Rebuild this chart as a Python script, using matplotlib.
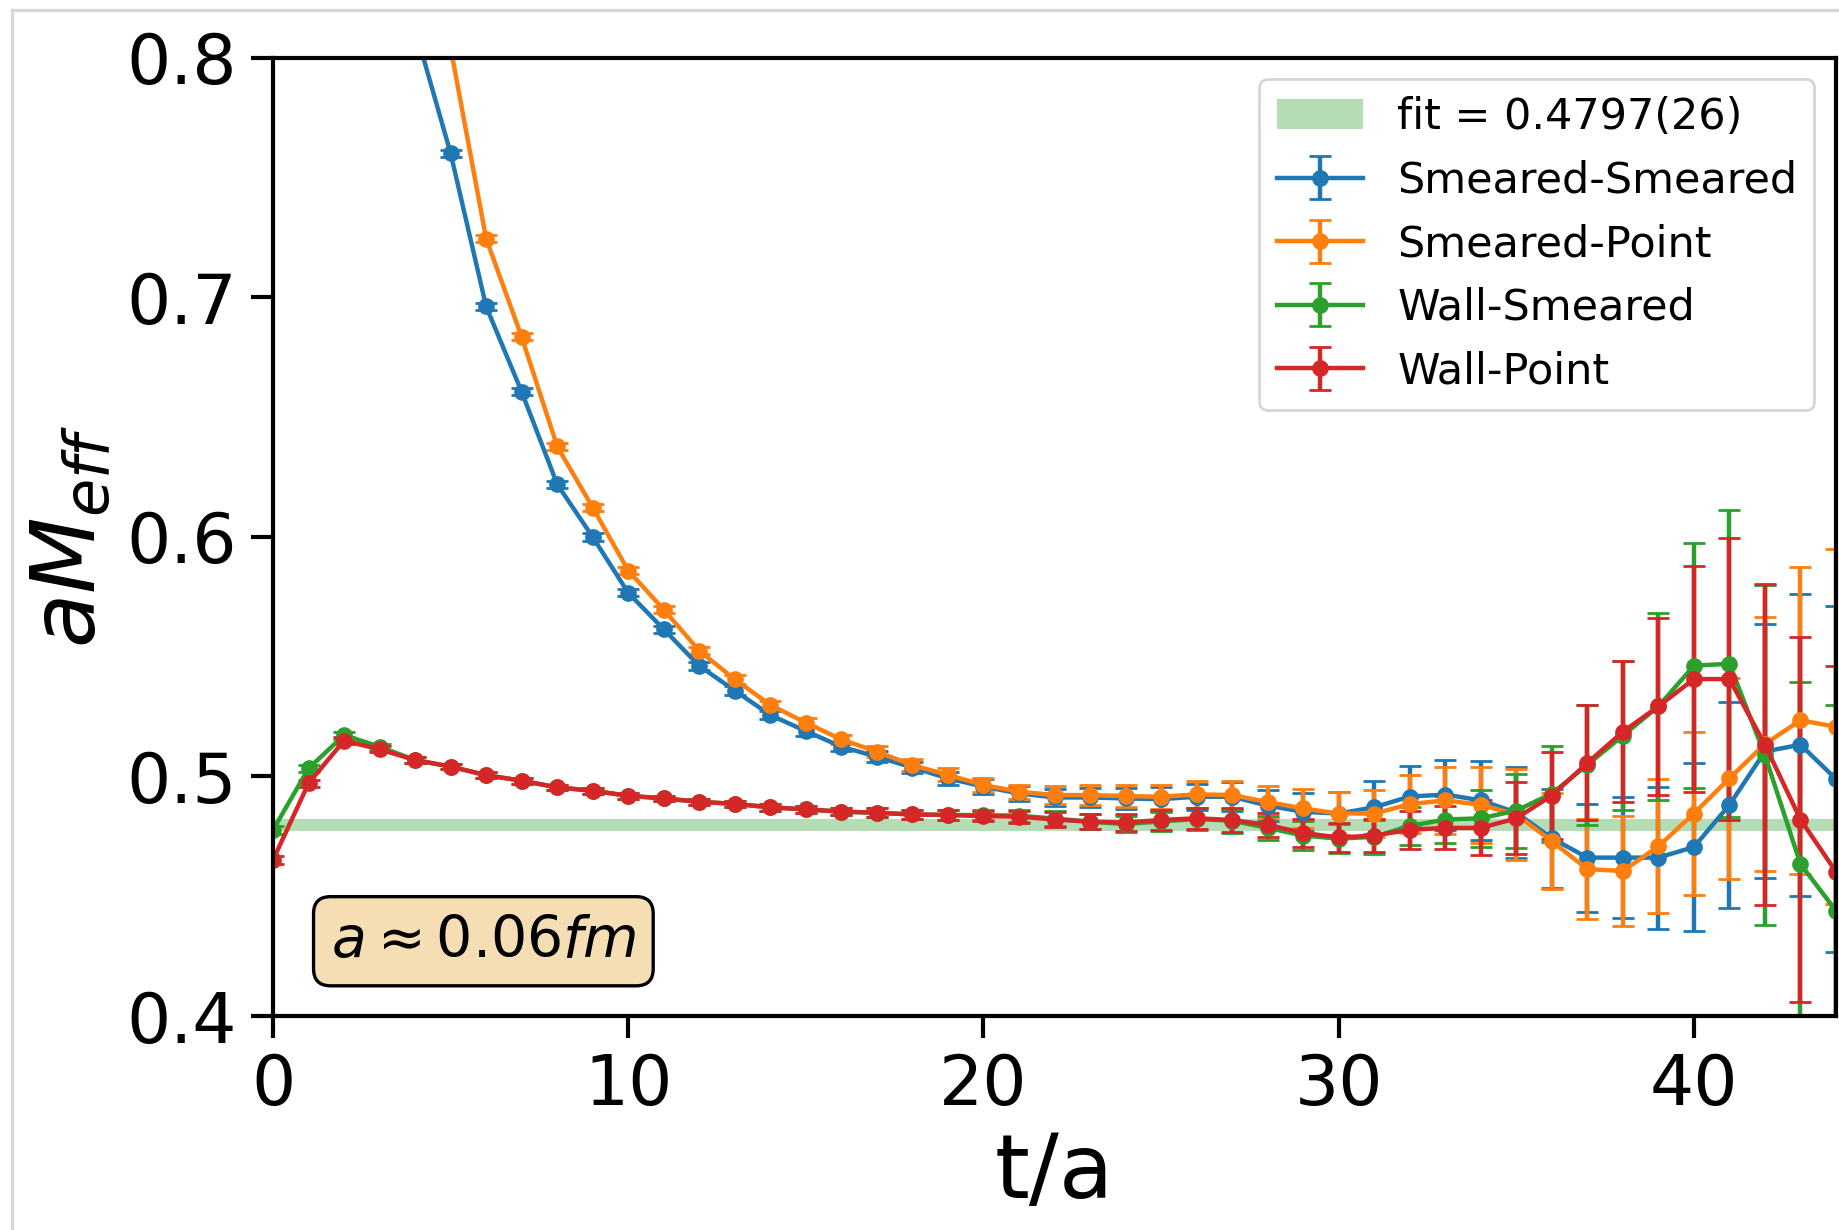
import numpy as np
import matplotlib.pyplot as plt
from matplotlib.lines import Line2D

# effective mass plateau, four source/sink combinations
t_ss = np.arange(4, 45)
m_ss = [0.812, 0.760, 0.6961, 0.6605, 0.6219, 0.5999, 0.5766, 0.5614, 0.5461, 0.5358,
        0.5256, 0.5189, 0.5124, 0.5082, 0.5037, 0.4992, 0.4957, 0.4929, 0.4912, 0.4912,
        0.4908, 0.4905, 0.4915, 0.4915, 0.4878, 0.4852, 0.4845, 0.4871, 0.4916, 0.4924,
        0.4900, 0.4849, 0.4742, 0.4661, 0.4661, 0.4661, 0.4705, 0.4881, 0.5104, 0.5132,
        0.4989]
e_ss = [0.0015, 0.0015, 0.0015, 0.0015, 0.0015, 0.0015, 0.0015, 0.0015, 0.0015, 0.0018,
        0.0018, 0.002, 0.002, 0.0022, 0.0025, 0.0027, 0.003, 0.003, 0.0036, 0.004,
        0.0045, 0.005, 0.0055, 0.006, 0.0065, 0.008, 0.009, 0.011, 0.0127, 0.0146,
        0.0164, 0.019, 0.0207, 0.0225, 0.0252, 0.0296, 0.035, 0.043, 0.053, 0.063,
        0.072]

t_sp = np.arange(5, 45)
m_sp = [0.804, 0.7244, 0.6834, 0.6377, 0.6122, 0.5859, 0.5696, 0.5524, 0.5405, 0.5298,
        0.5224, 0.5154, 0.5103, 0.5047, 0.5006, 0.4964, 0.4936, 0.4922, 0.4922, 0.4918,
        0.4915, 0.4925, 0.4922, 0.4893, 0.4866, 0.4845, 0.4845, 0.4884, 0.4900, 0.4881,
        0.4841, 0.4729, 0.4613, 0.4605, 0.4708, 0.4845, 0.4992, 0.5135, 0.5234, 0.5207]
e_sp = [0.0015, 0.0015, 0.0015, 0.0015, 0.0015, 0.0015, 0.0015, 0.0015, 0.0018, 0.0018,
        0.002, 0.002, 0.0022, 0.0025, 0.0027, 0.003, 0.003, 0.0036, 0.004, 0.0045,
        0.005, 0.0055, 0.006, 0.0065, 0.008, 0.009, 0.010, 0.012, 0.014, 0.016,
        0.019, 0.020, 0.021, 0.023, 0.028, 0.034, 0.042, 0.053, 0.064, 0.074]

t_w = np.arange(0, 45)
m_ws = [0.4776, 0.5033, 0.5172, 0.5124, 0.5068, 0.5041, 0.5005, 0.4982, 0.4954, 0.4940,
        0.4919, 0.4908, 0.4894, 0.4885, 0.4871, 0.4862, 0.4853, 0.4848, 0.4841, 0.4839,
        0.4838, 0.4836, 0.4824, 0.4811, 0.4801, 0.4812, 0.4822, 0.4815, 0.4785, 0.4753,
        0.4740, 0.4748, 0.4793, 0.4820, 0.4825, 0.4857, 0.4928, 0.5048, 0.5170, 0.5292,
        0.5462, 0.5470, 0.5088, 0.4634, 0.4439]
e_ws = [0.0015, 0.0015, 0.0015, 0.0012, 0.0012, 0.0012, 0.0012, 0.0012, 0.0012, 0.0012,
        0.0012, 0.0012, 0.0012, 0.0012, 0.0015, 0.0015, 0.0015, 0.0018, 0.0018, 0.002,
        0.002, 0.0025, 0.003, 0.003, 0.0035, 0.004, 0.0045, 0.005, 0.005, 0.006,
        0.006, 0.007, 0.008, 0.010, 0.012, 0.0154, 0.020, 0.025, 0.031, 0.039,
        0.051, 0.064, 0.071, 0.076, 0.086]

m_wp = [0.4651, 0.4971, 0.5149, 0.5113, 0.5068, 0.5041, 0.5005, 0.4982, 0.4954, 0.4940,
        0.4919, 0.4908, 0.4894, 0.4885, 0.4871, 0.4862, 0.4853, 0.4848, 0.4841, 0.4839,
        0.4834, 0.4832, 0.4820, 0.4811, 0.4807, 0.4818, 0.4825, 0.4818, 0.4797, 0.4764,
        0.4745, 0.4753, 0.4777, 0.4785, 0.4785, 0.4825, 0.4920, 0.5056, 0.5186, 0.5292,
        0.5406, 0.5406, 0.5132, 0.4820, 0.4602]
e_wp = [0.0015, 0.0015, 0.0015, 0.0012, 0.0012, 0.0012, 0.0012, 0.0012, 0.0012, 0.0012,
        0.0012, 0.0012, 0.0012, 0.0012, 0.0015, 0.0015, 0.0015, 0.0018, 0.0018, 0.002,
        0.002, 0.0025, 0.003, 0.003, 0.0035, 0.004, 0.0045, 0.005, 0.005, 0.006,
        0.006, 0.007, 0.008, 0.009, 0.0115, 0.015, 0.018, 0.024, 0.0295, 0.037,
        0.047, 0.059, 0.067, 0.076, 0.086]

fit_val = 0.4797
fit_err = 0.0026

fig = plt.figure(figsize=(9.2, 6.15), dpi=200)
ax = fig.add_axes([273 / 1840, 1 - 1016 / 1230, (1836 - 273) / 1840, (1016 - 57.5) / 1230])

band = ax.axhspan(fit_val - fit_err, fit_val + fit_err, color='tab:green', alpha=0.35, lw=0,
                  label='fit = 0.4797(26)')

kw = dict(marker='o', markersize=5, lw=1.6, capsize=4)
h1 = ax.errorbar(t_ss, m_ss, yerr=e_ss, color='tab:blue', label='Smeared-Smeared', **kw)
h2 = ax.errorbar(t_sp, m_sp, yerr=e_sp, color='tab:orange', label='Smeared-Point', **kw)
h3 = ax.errorbar(t_w, m_ws, yerr=e_ws, color='tab:green', label='Wall-Smeared', **kw)
h4 = ax.errorbar(t_w, m_wp, yerr=e_wp, color='tab:red', label='Wall-Point', **kw)

ax.set_xlim(0, 44)
ax.set_ylim(0.4, 0.8)
ax.set_xticks([0, 10, 20, 30, 40])
ax.set_yticks([0.4, 0.5, 0.6, 0.7, 0.8])
ax.tick_params(labelsize=25, length=8, width=1.5, pad=5)
for s in ax.spines.values():
    s.set_linewidth(1.5)

ax.set_xlabel('t/a', fontsize=32, labelpad=4)
ax.set_ylabel(r'$aM_{eff}$', fontsize=32, labelpad=4)

ax.legend(handles=[band, h1, h2, h3, h4], fontsize=15.5, loc='upper right')

ax.text(0.1346, 0.078, r'$a \approx 0.06 fm$', transform=ax.transAxes, fontsize=20.5,
        ha='center', va='center',
        bbox=dict(boxstyle='round', facecolor='wheat', edgecolor='black', lw=1.2))

# thin grey frame on the left and top edge
fig.add_artist(Line2D([12.5 / 1840, 12.5 / 1840], [0, 1 - 10 / 1230], color='#d8d8d8', lw=1.2))
fig.add_artist(Line2D([12.5 / 1840, 1], [1 - 10 / 1230, 1 - 10 / 1230], color='#d8d8d8', lw=1.2))

fig.savefig('out.png', dpi=200)
